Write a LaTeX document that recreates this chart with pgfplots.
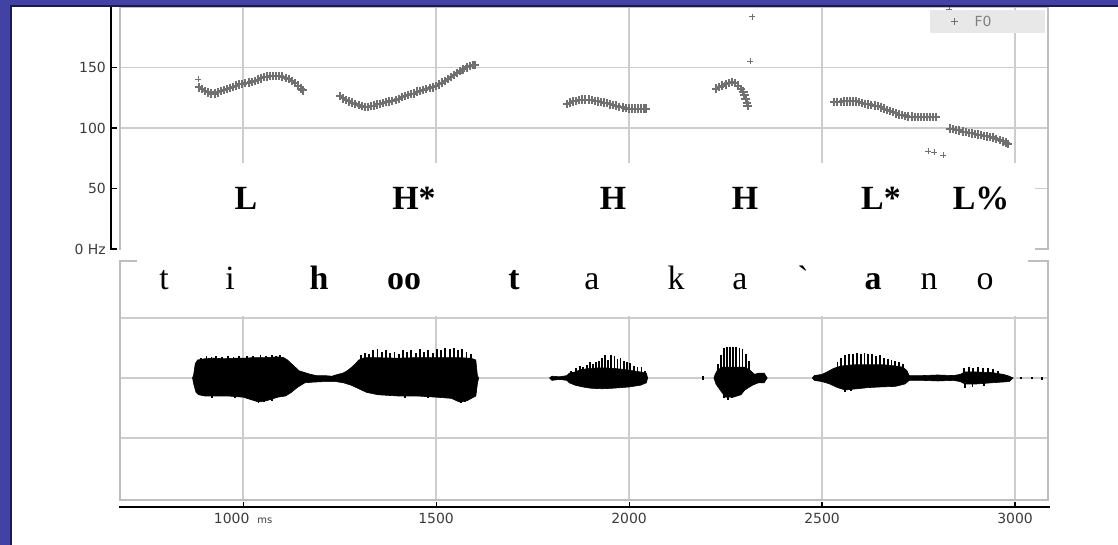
\documentclass[border=0pt]{standalone}
\usepackage{fontspec}
\setmainfont{Liberation Serif}
\newfontfamily\tickfont{DejaVu Sans}
\usepackage{pgfplots}
\pgfplotsset{compat=1.18}
\definecolor{frameblue}{RGB}{66,66,165}
\definecolor{framedark}{RGB}{25,25,90}
\definecolor{gridc}{RGB}{205,205,205}
\definecolor{boxc}{RGB}{190,190,190}
\definecolor{fzero}{RGB}{112,112,112}
\definecolor{ticktext}{RGB}{60,60,60}
\definecolor{legfill}{RGB}{232,232,232}

\begin{document}
\begin{tikzpicture}
\fill[white] (0,0) rectangle (1118bp,545bp);
\useasboundingbox (0,0) rectangle (1118bp,545bp);

% ---------------- F0 panel ----------------
\begin{axis}[
  at={(120bp,296bp)}, anchor=south west,
  width=928bp, height=242bp, scale only axis,
  xmin=681, xmax=3085.5, ymin=0, ymax=200,
  xtick={1000,1500,2000,2500,3000}, xticklabels={},
  ytick={0,50,100,150}, yticklabels={0 Hz,50,100,150},
  major tick length=0pt,
  xmajorgrids, ymajorgrids,
  grid style={gridc, line width=1.5bp},
  axis line style={boxc, line width=1.8bp},
  yticklabel style={font=\tickfont\fontsize{14}{14}\selectfont, text=ticktext, anchor=east, inner sep=0pt, xshift=-14bp},
  legend style={at={(axis cs:3077,197.5)}, anchor=north east, fill=legfill, draw=none,
    font=\tickfont\fontsize{14}{14}\selectfont, text=gray, inner xsep=15bp, inner ysep=3.5bp},
  legend image code/.code={\path[draw=none,fill=none] (0,-1bp) rectangle (20bp,1bp);
    \path[mark=+, mark size=3.6bp, line width=1.1bp, fzero] plot[only marks] coordinates {(10bp,0)};},
]
\addplot[only marks, mark=+, mark size=4.2bp, line width=2bp, fzero] table {
886 133.5
894 132
902 130.5
910 129.5
918 128.5
926 128.5
934 129.5
942 130.5
950 131.5
958 132
966 133
974 134
982 135
990 136
998 136.5
1006 137
1014 137.5
1022 138
1030 139
1038 140
1046 141
1054 142
1062 142.5
1070 143
1078 143
1086 143
1094 143
1102 142.5
1110 141.5
1118 140.5
1126 139
1134 137
1142 135
1150 132.5
1154 131
1251 126.5
1259 124.5
1267 123
1275 122
1283 121
1291 120
1299 119
1307 118
1315 117.5
1323 117.5
1331 118
1339 118.5
1347 119.5
1355 120
1363 120.5
1371 121.5
1379 122
1387 122.5
1395 123
1403 124
1411 125.5
1419 126.5
1427 127.5
1435 128
1443 128.5
1451 130
1459 130.5
1467 131.5
1475 132
1483 133
1491 133.5
1499 134.5
1507 136
1515 137.5
1523 139
1531 140.5
1539 142
1547 144
1555 145.5
1563 147
1571 148.5
1579 150
1587 151
1595 152
1601 152
1839 120
1847 121
1855 122
1863 122.5
1871 123
1879 123.5
1887 123.5
1895 123.5
1903 123
1911 122.5
1919 122
1927 121.5
1935 121
1943 120.5
1951 119.5
1959 119
1967 118.5
1975 117.5
1983 117
1991 116.5
1999 116
2007 116
2015 116
2023 116
2031 116
2039 116
2044 116
2226 132.5
2234 134
2242 135
2250 136
2258 137
2266 138
2274 137
2282 135
2290 132
2296 130
2299 127
2302 124
2305 121
2307 118.5
2532 121.5
2540 121.5
2548 121.5
2556 122
2564 122
2572 122
2580 122
2588 122
2596 121.5
2604 120.5
2612 120
2620 119.5
2628 119
2636 118.5
2644 118
2652 117
2660 116
2668 115
2676 114
2684 113
2692 112
2700 111
2708 110.5
2716 110
2724 109.5
2732 109.5
2740 109
2748 109
2756 109
2764 109
2772 109
2780 109
2788 109
2794 109
2832 99.5
2840 99
2848 98.5
2856 98
2864 97
2872 96.5
2880 96
2888 95.5
2896 95
2904 94.5
2912 94
2920 93.5
2928 93
2936 92.5
2944 92
2952 91
2960 90
2968 89
2976 88
2982 87
};
\addlegendentry{\hspace*{8bp}F0\hspace*{36bp}\mbox{}}
\addplot[only marks, mark=+, mark size=3bp, line width=0.9bp, fzero, forget plot] table {
883 140.5
2314 155
2319 192
2775 81
2790 80
2814 77.7
2830 198
2864 194
2967 182
};
\end{axis}

% white label band over the lower part of the F0 panel
\fill[white] (121bp,290bp) rectangle (1035bp,382bp);
% black F0 axis with ticks
\draw[black, line width=1.6bp] (111bp,296bp) -- (111bp,538bp);
\foreach \Y in {296,356.5,417,477.5} {\draw[black, line width=1.2bp] (110bp,\Y bp) -- (117bp,\Y bp);}

% ---------------- waveform panel ----------------
\begin{axis}[
  at={(120bp,45bp)}, anchor=south west,
  width=928bp, height=239bp, scale only axis,
  xmin=681, xmax=3085.5, ymin=-1.017, ymax=0.975,
  xtick={1000,1500,2000,2500,3000},
  xticklabels={{1000\hspace{8bp}{\fontsize{10}{10}\selectfont ms}},1500,2000,2500,3000},
  ytick={-0.5,0,0.5}, yticklabels={},
  major tick length=0pt,
  xmajorgrids, ymajorgrids,
  grid style={gridc, line width=1.5bp},
  axis line style={boxc, line width=1.8bp},
  xticklabel style={font=\tickfont\fontsize{14}{14}\selectfont, text=ticktext, anchor=center, inner sep=0pt, yshift=-18bp},
]
% t i h oo
\addplot[fill=black, draw=black, line width=0.6bp] coordinates {
(869,0) (872,0.03) (876,0.12) (882,0.15) (900,0.16) (925,0.165) (950,0.16) (980,0.165) (1000,0.165)
(1030,0.17) (1060,0.17) (1090,0.175) (1105,0.17) (1115,0.15) (1125,0.12) (1135,0.09) (1145,0.06)
(1155,0.05) (1165,0.04) (1175,0.03) (1190,0.02) (1210,0.02) (1230,0.015) (1245,0.03) (1258,0.04)
(1270,0.06) (1285,0.1) (1300,0.15) (1315,0.17) (1340,0.17) (1400,0.165) (1450,0.17) (1500,0.17)
(1550,0.17) (1590,0.165) (1603,0.15) (1607,0.02) (1610,0)
(1607,-0.05) (1603,-0.15) (1580,-0.19) (1560,-0.2) (1540,-0.17) (1500,-0.16) (1450,-0.15) (1400,-0.15)
(1350,-0.14) (1320,-0.12) (1300,-0.09) (1280,-0.06) (1260,-0.04) (1240,-0.03) (1210,-0.03) (1180,-0.035)
(1160,-0.04) (1140,-0.08) (1125,-0.12) (1110,-0.15) (1090,-0.16) (1060,-0.19) (1040,-0.2) (1020,-0.18)
(1000,-0.16) (960,-0.15) (930,-0.15) (900,-0.15) (885,-0.14) (878,-0.12) (872,-0.05)
} --cycle;
\addplot[ycomb, black, line width=1.8bp] coordinates {
(890,0.17) (905,0.18) (918,0.175) (930,0.185) (945,0.175) (960,0.18) (975,0.175) (990,0.18) (1010,0.185)
(1025,0.18) (1045,0.19) (1060,0.185) (1075,0.19) (1085,0.185) (1095,0.19)
(1306,0.19) (1316,0.21) (1326,0.2) (1337,0.23) (1348,0.24) (1359,0.22) (1370,0.23) (1381,0.21)
(1392,0.22) (1403,0.2) (1414,0.23) (1425,0.22) (1436,0.23) (1447,0.21) (1458,0.24) (1469,0.22)
(1480,0.23) (1491,0.21) (1502,0.24) (1513,0.23) (1524,0.25) (1535,0.24) (1546,0.25) (1557,0.23)
(1568,0.24) (1579,0.22) (1590,0.2)
};
\addplot[ycomb, black, line width=1.8bp] coordinates {
(920,-0.17) (980,-0.17) (1040,-0.21) (1055,-0.2) (1075,-0.19) (1420,-0.17) (1480,-0.17) (1565,-0.21) (1575,-0.2)
};
% a
\addplot[fill=black, draw=black, line width=0.6bp] coordinates {
(1794,0) (1800,0.015) (1820,0.01) (1839,0.02) (1845,0.04) (1860,0.05) (1875,0.07) (1900,0.08)
(1930,0.085) (1960,0.08) (1990,0.07) (2010,0.06) (2030,0.05) (2045,0.04) (2048,0)
(2045,-0.04) (2030,-0.06) (2000,-0.075) (1960,-0.085) (1930,-0.09) (1900,-0.085) (1880,-0.075)
(1860,-0.06) (1845,-0.04) (1839,-0.02) (1820,-0.012) (1800,-0.02)
} --cycle;
\addplot[ycomb, black, line width=1.8bp] coordinates {
(1850,0.06) (1862,0.08) (1872,0.1) (1880,0.09) (1890,0.11) (1898,0.13) (1906,0.12) (1914,0.13)
(1922,0.14) (1930,0.17) (1938,0.19) (1946,0.15) (1954,0.19) (1962,0.18) (1970,0.16) (1978,0.17)
(1986,0.14) (1994,0.13) (2002,0.125) (2012,0.1) (2022,0.09) (2032,0.09) (2042,0.06)
};
% k a
\addplot[fill=black, draw=black, line width=0.6bp] coordinates {
(2220,0) (2223,0.03) (2228,0.06) (2240,0.09) (2300,0.09) (2315,0.06) (2325,0.03) (2335,0.04)
(2350,0.04) (2358,0)
(2350,-0.04) (2335,-0.04) (2320,-0.06) (2300,-0.1) (2290,-0.14) (2270,-0.16) (2250,-0.16)
(2238,-0.11) (2225,-0.05)
} --cycle;
\addplot[ycomb, black, line width=1.8bp] coordinates {
(2230,0.12) (2238,0.19) (2246,0.25) (2254,0.26) (2262,0.26) (2270,0.26) (2278,0.26) (2286,0.25)
(2294,0.24) (2302,0.2) (2310,0.14)
};
\addplot[ycomb, black, line width=1.8bp] coordinates {
(2246,-0.17) (2256,-0.18) (2266,-0.17) (2192,0.02) (2192,-0.02)
};
% ` a n o
\addplot[fill=black, draw=black, line width=0.6bp] coordinates {
(2475,0) (2480,0.02) (2500,0.03) (2513,0.05) (2530,0.08) (2550,0.1) (2580,0.11) (2620,0.11)
(2660,0.11) (2690,0.1) (2710,0.09) (2720,0.06) (2726,0.02) (2760,0.02) (2800,0.025) (2840,0.02)
(2858,0.03) (2870,0.05) (2900,0.05) (2940,0.045) (2970,0.03) (2985,0.015) (2995,0)
(2985,-0.03) (2940,-0.04) (2900,-0.05) (2870,-0.05) (2858,-0.03) (2840,-0.02)
(2800,-0.025) (2760,-0.02) (2726,-0.02) (2715,-0.05) (2690,-0.07) (2650,-0.075) (2620,-0.08)
(2590,-0.09) (2560,-0.1) (2540,-0.08) (2520,-0.05) (2500,-0.03) (2480,-0.02)
} --cycle;
\addplot[ycomb, black, line width=1.8bp] coordinates {
(2540,0.13) (2550,0.17) (2560,0.19) (2570,0.2) (2580,0.2) (2590,0.21) (2600,0.2) (2610,0.21)
(2620,0.2) (2630,0.2) (2640,0.18) (2650,0.19) (2660,0.17) (2670,0.16) (2680,0.15) (2690,0.14)
(2700,0.13) (2710,0.12)
(2868,0.08) (2880,0.09) (2892,0.08) (2905,0.09) (2918,0.085) (2930,0.08) (2942,0.075) (2955,0.06)
(3015,0.012) (3045,0.01) (3070,0.012)
};
\addplot[ycomb, black, line width=1.8bp] coordinates {
(2560,-0.12) (2575,-0.11) (2870,-0.08) (2890,-0.075) (2920,-0.07) (3015,-0.012) (3045,-0.01) (3070,-0.015)
};
\end{axis}

% white label band over the top of the waveform panel
\fill[white] (137bp,229bp) rectangle (1028bp,290bp);
% black time axis with ticks
\draw[black, line width=1.6bp] (119bp,38bp) -- (1050bp,38bp);
\foreach \X in {243.1,436.1,629.1,822.0,1015.0} {\draw[black, line width=1.2bp] (\X bp,38bp) -- (\X bp,43bp);}

% tone labels
\begin{scope}[every node/.style={anchor=base, inner sep=0pt, font=\fontsize{34}{34}\selectfont\bfseries}]
\node at (246bp,335bp) {L};
\node at (414bp,335bp) {H*};
\node at (613bp,335bp) {H};
\node at (745bp,335bp) {H};
\node at (881bp,335bp) {L*};
\node at (981bp,335bp) {L\%};
\end{scope}
% segment labels
\begin{scope}[every node/.style={anchor=base, inner sep=0pt, font=\fontsize{34}{34}\selectfont}]
\node at (164bp,255bp) {t};
\node at (230bp,255bp) {i};
\node at (319bp,255bp) {\bfseries h};
\node at (404bp,255bp) {\bfseries oo};
\node at (514bp,255bp) {\bfseries t};
\node at (592bp,255bp) {a};
\node at (676bp,255bp) {k};
\node at (740bp,255bp) {a};
\node at (803bp,255bp) {\textasciigrave};
\node at (873bp,255bp) {\bfseries a};
\node at (929bp,255bp) {n};
\node at (985bp,255bp) {o};
\end{scope}

% slide frame
\fill[frameblue] (0,0) rectangle (10bp,545bp);
\fill[framedark] (10bp,0) rectangle (11.5bp,540bp);
\fill[frameblue] (0,540.3bp) rectangle (1118bp,545bp);
\fill[framedark] (10bp,538.3bp) rectangle (1118bp,540.3bp);
\end{tikzpicture}
\end{document}
